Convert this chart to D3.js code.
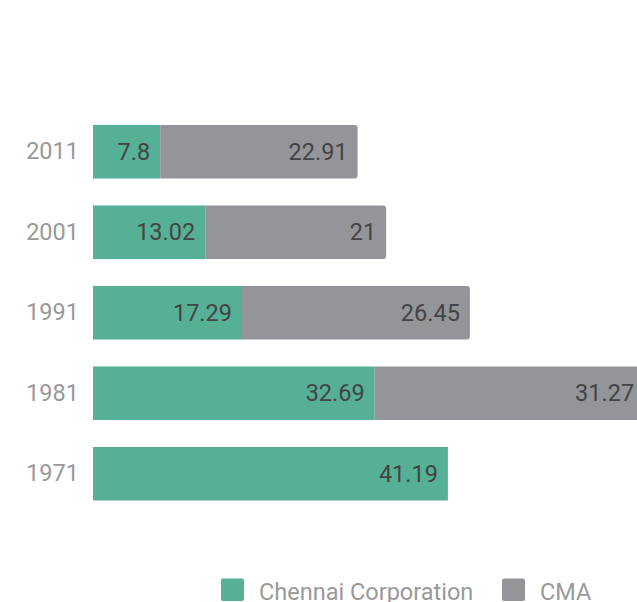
<!DOCTYPE html>
<html>
<head>
<meta charset="utf-8">
<script src="https://cdn.jsdelivr.net/npm/d3@7"></script>
<style>
  body { margin: 0; background: #fff; }
  svg { display: block; font-family: Roboto, "Noto Sans", sans-serif; }
</style>
</head>
<body>
<svg id="chart" width="637" height="602"></svg>
<script>
var years = ["2011", "2001", "1991", "1981", "1971"];
var chennaiCorp = [7.8, 13.02, 17.29, 32.69, 41.19];
var cma = [22.91, 21, 26.45, 31.27, 0];
var seriesNames = ["Chennai Corporation", "CMA"];
var colors = ["#56b095", "#949598"];

var data = years.map(function(y, i) {
  return { year: y, corp: chennaiCorp[i], cma: cma[i] };
});

var svg = d3.select("#chart");

var x = d3.scaleLinear().domain([0, 60]).range([93, 610]);
var y = d3.scaleBand()
  .domain(years)
  .range([111.5, 514])
  .paddingInner(0.335)
  .paddingOuter(0.1675);

var stack = d3.stack().keys(["corp", "cma"])(data);

// right-rounded rect path
function rightRounded(x0, y0, w, h, r) {
  r = Math.min(r, w);
  return "M" + x0 + "," + y0 +
    "H" + (x0 + w - r) +
    "Q" + (x0 + w) + "," + y0 + " " + (x0 + w) + "," + (y0 + r) +
    "V" + (y0 + h - r) +
    "Q" + (x0 + w) + "," + (y0 + h) + " " + (x0 + w - r) + "," + (y0 + h) +
    "H" + x0 + "Z";
}

stack.forEach(function(layer, li) {
  var g = svg.append("g").attr("fill", colors[li]);
  layer.forEach(function(d) {
    if (d[1] - d[0] <= 0) return;
    var x0 = x(d[0]), w = x(d[1]) - x(d[0]);
    if (li === 1) {
      g.append("path").attr("d", rightRounded(x0, y(d.data.year), w, y.bandwidth(), 3));
    } else {
      g.append("rect")
        .attr("x", x0)
        .attr("y", y(d.data.year))
        .attr("width", w)
        .attr("height", y.bandwidth());
    }
    svg.append("text")
      .attr("x", x(d[1]) - 10)
      .attr("y", y(d.data.year) + y.bandwidth() / 2)
      .attr("dy", "0.35em")
      .attr("text-anchor", "end")
      .attr("fill", "#444")
      .style("font-size", "23.5px")
      .text(li === 0 ? d.data.corp : d.data.cma);
  });
});

// year labels
var yAxis = d3.axisLeft(y).tickSize(0).tickPadding(14);
var ya = svg.append("g").attr("transform", "translate(93,0)").call(yAxis);
ya.select(".domain").remove();
ya.selectAll("text").attr("fill", "#999").style("font-size", "23.5px")
  .style("font-family", "Roboto, sans-serif");

// legend
var legendX = [221, 502];
var legend = svg.append("g");
seriesNames.forEach(function(name, i) {
  legend.append("rect")
    .attr("x", legendX[i]).attr("y", 578.5)
    .attr("width", 23).attr("height", 22.5)
    .attr("rx", 2)
    .attr("fill", colors[i]);
  legend.append("text")
    .attr("x", legendX[i] + 38).attr("y", 600)
    .attr("fill", "#999")
    .style("font-size", "23.5px")
    .text(name);
});
</script>
</body>
</html>
